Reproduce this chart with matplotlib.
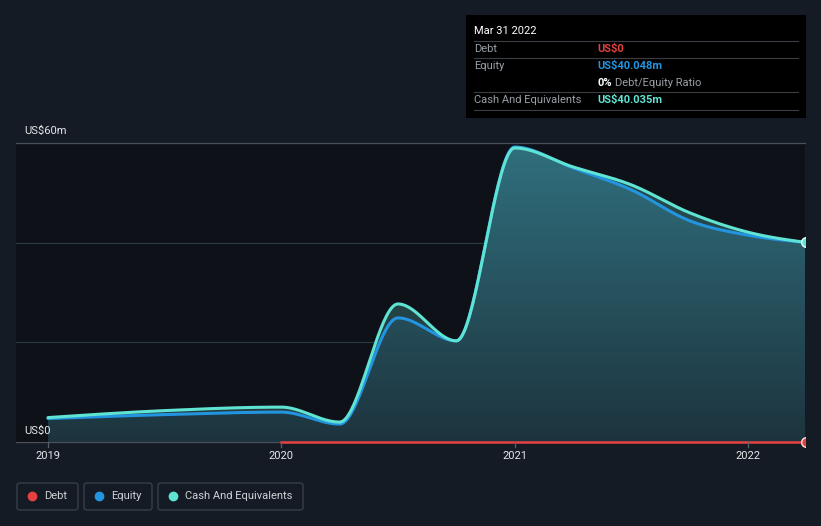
import numpy as np
import matplotlib
matplotlib.use('Agg')
import matplotlib.pyplot as plt
from matplotlib.patches import FancyBboxPatch, PathPatch, Rectangle
from matplotlib.path import Path
from matplotlib.lines import Line2D

plt.rcParams['font.family'] = ['Roboto', 'DejaVu Sans']

# data (US$m), dates as decimal years
dates = [2019.0, 2019.5, 2020.0, 2020.25, 2020.5, 2020.75, 2021.0, 2021.25, 2021.5, 2021.75, 2022.0, 2022.25]
cash = [4.9, 6.3, 7.0, 4.0, 27.7, 20.3, 59.0, 55.2, 51.6, 46.0, 42.1, 40.035]
equity = [4.7, 5.5, 6.0, 3.6, 24.9, 20.3, 59.2, 55.0, 50.6, 44.4, 41.5, 40.048]
debt_dates = [2020.0, 2020.25, 2020.5, 2020.75, 2021.0, 2021.25, 2021.5, 2021.75, 2022.0, 2022.25]
debt = [0, 0, 0, 0, 0, 0, 0, 0, 0, 0]

year_ticks = [2019, 2020, 2021, 2022]
y_ticks = [0, 20, 40, 60]

BG = '#151b24'
PLOT_BG = '#0e1218'
CASH_C = '#5fe3d3'
EQ_C = '#2394df'
DEBT_C = '#e64141'

W, H = 821, 526


def px(x, y):
    return x / W, 1 - y / H


def monotone(xs, ys, n=40):
    # d3 curveMonotoneX style interpolation
    xs = np.asarray(xs, float)
    ys = np.asarray(ys, float)
    h = np.diff(xs)
    s = np.diff(ys) / h
    m = np.zeros(len(xs))
    for i in range(1, len(xs) - 1):
        p = (s[i - 1] * h[i] + s[i] * h[i - 1]) / (h[i - 1] + h[i])
        m[i] = (np.sign(s[i - 1]) + np.sign(s[i])) * min(abs(s[i - 1]), abs(s[i]), 0.5 * abs(p))
    m[0] = (3 * s[0] - m[1]) / 2
    m[-1] = (3 * s[-1] - m[-2]) / 2
    out_x, out_y = [], []
    for i in range(len(xs) - 1):
        t = np.linspace(0, 1, n, endpoint=(i == len(xs) - 2))
        h00 = 2 * t**3 - 3 * t**2 + 1
        h10 = t**3 - 2 * t**2 + t
        h01 = -2 * t**3 + 3 * t**2
        h11 = t**3 - t**2
        out_x.append(xs[i] + t * h[i])
        out_y.append(h00 * ys[i] + h10 * h[i] * m[i] + h01 * ys[i + 1] + h11 * h[i] * m[i + 1])
    return np.concatenate(out_x), np.concatenate(out_y)


fig = plt.figure(figsize=(W / 100, H / 100), dpi=100, facecolor=BG)

x_left, x_right = 16, 805
y_top, y_bot = 143, 442
px_per_year = (748 - 48) / 3
xmin = 2019 - (48 - x_left) / px_per_year
xmax = 2019 + (x_right - 48) / px_per_year

l, b = px(x_left, y_bot)
r, t = px(x_right, y_top)
ax = fig.add_axes([l, b, r - l, t - b])
ax.set_facecolor(PLOT_BG)
for sp in ax.spines.values():
    sp.set_visible(False)
ax.set_xticks([])
ax.set_yticks([])

for yv in y_ticks[1:-1]:
    ax.axhline(yv, color='#2e3a44', lw=0.8, zorder=1)

cx, cy = monotone(dates, cash)
ex, ey = monotone(dates, equity)

# gradient fills
grad = np.linspace(0, 1, 256).reshape(-1, 1)
bottom_c = np.array([29, 52, 62]) / 255
top_c = np.array([48, 112, 126]) / 255
img = bottom_c + grad[..., None] * (top_c - bottom_c)
img = img[:, 0, :][:, None, :]

# cash area (faint) under cash line
cash_poly = np.vstack([np.column_stack([cx, cy]), [[cx[-1], 0], [cx[0], 0]]])
patch_c = PathPatch(Path(cash_poly), facecolor='#24403f', edgecolor='none', zorder=2)
ax.add_patch(patch_c)

eq_poly = np.vstack([np.column_stack([ex, ey]), [[ex[-1], 0], [ex[0], 0]]])
patch_e = PathPatch(Path(eq_poly), facecolor='none', edgecolor='none')
ax.add_patch(patch_e)
im = ax.imshow(img, extent=[xmin, xmax, 0, 60], origin='lower', aspect='auto', zorder=3)
im.set_clip_path(patch_e)

patch_c2 = PathPatch(Path(cash_poly), facecolor='none', edgecolor='none')
ax.add_patch(patch_c2)
im2 = ax.imshow(img, extent=[xmin, xmax, 0, 60], origin='lower', aspect='auto', zorder=3, alpha=0.25)
im2.set_clip_path(patch_c2)

ax.plot(ex, ey, color=EQ_C, lw=2.2, zorder=5, solid_capstyle='round')
ax.plot(cx, cy, color=CASH_C, lw=2.2, zorder=6, solid_capstyle='round')

# clip only at the left/right edges so the zero line and markers show fully in y
xclip = Rectangle(px(x_left, 470), (x_right - x_left) / W, 350 / H, transform=fig.transFigure,
                  facecolor='none', edgecolor='none')
dl, = ax.plot(debt_dates, debt, color=DEBT_C, lw=1.8, zorder=6)
dl.set_clip_path(xclip)

ax.plot([dates[-1]], [cash[-1]], 'o', ms=7, color=CASH_C, mec='#e8fffb', mew=1, zorder=7)
dm, = ax.plot([debt_dates[-1]], [debt[-1]], 'o', ms=7, color=DEBT_C, mec='#ffdede', mew=1, zorder=7)
dm.set_clip_path(xclip)

ax.set_xlim(xmin, xmax)
ax.set_ylim(0, 60)

# top gridline and zero line across plot width
fig.add_artist(Line2D([x_left / W, x_right / W], [1 - y_top / H] * 2, color='#4a5059', lw=0.9))
fig.add_artist(Line2D([x_left / W, x_right / W], [1 - y_bot / H] * 2, color='#4d535c', lw=0.9, zorder=0))

# tick marks and labels
for yr in year_ticks:
    xp = 48 + (yr - 2019) * px_per_year
    fig.add_artist(Line2D([xp / W] * 2, [1 - 442 / H, 1 - 447 / H], color='#5a6068', lw=0.9))
    fig.text(*px(xp, 456), str(yr), color='#e6e8eb', fontsize=8, ha='center', va='center')

fig.text(*px(24, 131), 'US$60m', color='#e6e8eb', fontsize=8, ha='left', va='center')
fig.text(*px(24, 431), 'US$0', color='#e6e8eb', fontsize=8, ha='left', va='center')

# tooltip box
bx0, by0, bx1, by1 = 466, 15, 806, 118
fig.add_artist(Rectangle(px(bx0, by1), (bx1 - bx0) / W, (by1 - by0) / H, facecolor='#000000', edgecolor='none'))
fig.text(*px(474, 31), 'Mar 31 2022', color='#ffffff', fontsize=8, va='center')
for sy in [41, 58, 92, 110]:
    fig.add_artist(Line2D([474 / W, 798 / W], [1 - sy / H] * 2, color='#3a3f46', lw=0.8))
lab_c = '#9aa0a7'
fs = 8
fig.text(*px(474, 49), 'Debt', color=lab_c, fontsize=fs, va='center')
fig.text(*px(597, 49), 'US$0', color='#e64141', fontsize=fs, va='center', fontweight='bold')
fig.text(*px(474, 66), 'Equity', color=lab_c, fontsize=fs, va='center')
fig.text(*px(597, 66), 'US$40.048m', color='#2394df', fontsize=fs, va='center', fontweight='bold')
fig.text(*px(597, 83), '0%', color='#ffffff', fontsize=fs, va='center', fontweight='bold')
fig.text(*px(615, 83), 'Debt/Equity Ratio', color=lab_c, fontsize=fs, va='center')
fig.text(*px(474, 100), 'Cash And Equivalents', color=lab_c, fontsize=fs, va='center')
fig.text(*px(597, 100), 'US$40.035m', color='#5fe3d3', fontsize=fs, va='center', fontweight='bold')

# legend
legend_items = [('Debt', DEBT_C, 17, 78), ('Equity', EQ_C, 84, 152), ('Cash And Equivalents', CASH_C, 158, 303)]
for name, col, lx0, lx1 in legend_items:
    box = FancyBboxPatch(px(lx0, 510), (lx1 - lx0) / W, 27 / H,
                         boxstyle='round,pad=0,rounding_size=0.004',
                         facecolor='none', edgecolor='#3b424b', lw=0.9, transform=fig.transFigure)
    fig.add_artist(box)
    fig.add_artist(Line2D([(lx0 + 15) / W], [1 - 496 / H], marker='o', ms=6, color=col, lw=0))
    fig.text(*px(lx0 + 27, 496), name, color='#cfd3d8', fontsize=8, va='center')

fig.savefig('out.png', dpi=100, facecolor=BG)
